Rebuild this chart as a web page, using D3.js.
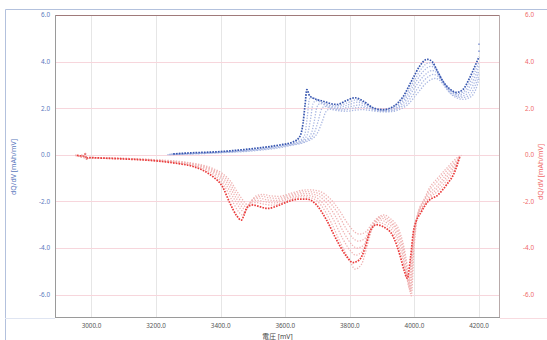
<!DOCTYPE html>
<html>
<head>
<meta charset="utf-8">
<script src="https://cdn.jsdelivr.net/npm/d3@7"></script>
<style>
  body { margin: 0; background: #fff; }
  svg { display: block; font-family: "Noto Sans", "Noto Sans CJK JP", sans-serif; }
</style>
</head>
<body>
<svg id="chart"></svg>
<script>
// axis ticks
const xTicks = [3000, 3200, 3400, 3600, 3800, 4000, 4200];
const yTicks = [6, 4, 2, 0, -2, -4, -6];

// charge dQ/dV (blue), darkest cycle first
const charge0 = [[3253,0.04],[3300,0.08],[3400,0.14],[3500,0.27],[3580,0.42],[3625,0.56],[3645,0.78],[3655,1.35],[3661,2.1],[3667,2.8],[3676,2.52],[3717,2.3],[3760,2.16],[3790,2.33],[3815,2.45],[3842,2.3],[3872,2.02],[3903,1.94],[3934,2.07],[3965,2.5],[3996,3.3],[4016,3.8],[4040,4.1],[4055,4.0],[4070,3.62],[4090,3.12],[4110,2.82],[4130,2.68],[4150,2.8],[4171,3.3],[4192,3.95],[4200,4.2]];
const charge1 = [[3245,0.03],[3300,0.07],[3400,0.13],[3500,0.25],[3580,0.4],[3640,0.58],[3660,0.85],[3668,1.6],[3675,2.4],[3682,2.45],[3720,2.22],[3760,2.1],[3795,2.25],[3820,2.36],[3846,2.22],[3876,1.98],[3906,1.92],[3936,2.04],[3968,2.45],[4000,3.2],[4022,3.7],[4045,3.95],[4060,3.85],[4075,3.5],[4095,3.02],[4115,2.74],[4134,2.63],[4155,2.74],[4175,3.2],[4196,3.85],[4200,4.0]];
const charge2 = [[3245,0.02],[3300,0.06],[3400,0.12],[3500,0.23],[3580,0.38],[3650,0.6],[3668,0.85],[3678,1.5],[3686,2.2],[3695,2.32],[3725,2.15],[3765,2.04],[3800,2.17],[3825,2.26],[3850,2.14],[3880,1.95],[3908,1.9],[3938,2.0],[3970,2.38],[4003,3.1],[4026,3.56],[4050,3.8],[4064,3.7],[4080,3.36],[4100,2.92],[4120,2.68],[4138,2.58],[4158,2.68],[4178,3.1],[4198,3.72],[4200,3.8]];
const charge3 = [[3240,0.02],[3300,0.05],[3400,0.11],[3500,0.21],[3590,0.38],[3660,0.62],[3680,0.9],[3690,1.45],[3698,2.05],[3708,2.2],[3735,2.06],[3770,1.98],[3805,2.08],[3830,2.14],[3855,2.05],[3884,1.91],[3910,1.88],[3940,1.97],[3972,2.3],[4006,2.98],[4030,3.4],[4055,3.62],[4068,3.54],[4084,3.22],[4104,2.82],[4124,2.6],[4142,2.52],[4162,2.6],[4182,3.0],[4200,3.62]];
const charge4 = [[3240,0.01],[3300,0.04],[3400,0.1],[3500,0.19],[3600,0.38],[3670,0.64],[3690,0.95],[3702,1.45],[3712,1.95],[3722,2.08],[3745,1.98],[3778,1.93],[3810,2.0],[3835,2.04],[3860,1.98],[3888,1.88],[3912,1.86],[3942,1.94],[3975,2.22],[4010,2.85],[4034,3.25],[4060,3.45],[4072,3.38],[4088,3.1],[4108,2.72],[4128,2.52],[4146,2.46],[4166,2.52],[4186,2.9],[4200,3.45]];
const charge5 = [[3235,0.01],[3300,0.03],[3400,0.09],[3500,0.17],[3610,0.38],[3680,0.66],[3702,1.0],[3715,1.45],[3726,1.85],[3738,1.96],[3760,1.9],[3790,1.87],[3818,1.92],[3840,1.94],[3865,1.9],[3892,1.85],[3915,1.84],[3945,1.9],[3978,2.14],[4014,2.72],[4038,3.1],[4065,3.28],[4076,3.22],[4092,2.96],[4112,2.62],[4132,2.44],[4150,2.38],[4170,2.45],[4190,2.8],[4200,3.28]];
const chargeExtra = [[4200,4.75],[4200,4.45]];

// discharge dQ/dV (red), darkest cycle first
const discharge0 = [[2955,-0.02],[2976,-0.05],[2980,0.03],[2984,-0.16],[2992,-0.12],[3050,-0.15],[3120,-0.19],[3200,-0.26],[3270,-0.38],[3315,-0.5],[3350,-0.7],[3380,-0.98],[3405,-1.35],[3428,-2.05],[3450,-2.62],[3464,-2.8],[3472,-2.6],[3482,-2.25],[3500,-2.15],[3520,-2.22],[3545,-2.3],[3583,-2.15],[3610,-2.0],[3640,-1.9],[3668,-1.9],[3697,-2.15],[3728,-2.8],[3759,-3.65],[3790,-4.36],[3810,-4.62],[3830,-4.5],[3847,-4.0],[3862,-3.3],[3882,-3.0],[3903,-3.08],[3934,-3.5],[3955,-4.3],[3968,-4.95],[3978,-5.3],[3988,-4.4],[3998,-3.2],[4022,-2.43],[4042,-2.0],[4073,-1.72],[4099,-1.29],[4125,-0.72],[4140,-0.1]];
const discharge1 = [[2950,-0.02],[2978,-0.06],[2984,-0.14],[3050,-0.15],[3120,-0.18],[3200,-0.25],[3275,-0.36],[3320,-0.48],[3355,-0.66],[3385,-0.92],[3410,-1.3],[3435,-1.95],[3456,-2.45],[3468,-2.58],[3478,-2.4],[3490,-2.1],[3510,-2.05],[3535,-2.12],[3560,-2.16],[3595,-2.02],[3625,-1.86],[3655,-1.8],[3683,-1.86],[3712,-2.18],[3742,-2.9],[3772,-3.8],[3800,-4.55],[3816,-4.9],[3836,-4.7],[3852,-4.0],[3870,-3.15],[3890,-2.9],[3910,-3.0],[3940,-3.45],[3960,-4.3],[3974,-5.1],[3982,-5.5],[3992,-4.2],[4002,-3.0],[4024,-2.3],[4044,-1.88],[4073,-1.55],[4100,-1.1],[4126,-0.55],[4142,-0.06]];
const discharge2 = [[2950,-0.02],[2984,-0.13],[3050,-0.14],[3120,-0.17],[3200,-0.24],[3280,-0.35],[3325,-0.46],[3360,-0.63],[3390,-0.88],[3415,-1.25],[3440,-1.85],[3460,-2.3],[3472,-2.45],[3482,-2.3],[3495,-2.0],[3515,-1.95],[3540,-2.02],[3565,-2.06],[3600,-1.92],[3630,-1.78],[3660,-1.74],[3690,-1.8],[3718,-2.1],[3748,-2.75],[3778,-3.6],[3804,-4.15],[3818,-4.3],[3838,-4.15],[3855,-3.6],[3874,-3.0],[3895,-2.8],[3915,-2.92],[3944,-3.4],[3964,-4.3],[3976,-5.2],[3984,-5.7],[3994,-4.1],[4004,-2.9],[4026,-2.2],[4046,-1.78],[4070,-1.45],[4100,-0.95],[4128,-0.42],[4143,-0.05]];
const discharge3 = [[2950,-0.02],[2984,-0.12],[3050,-0.14],[3120,-0.17],[3200,-0.23],[3285,-0.34],[3330,-0.45],[3365,-0.61],[3395,-0.85],[3420,-1.2],[3444,-1.76],[3464,-2.2],[3476,-2.35],[3486,-2.2],[3500,-1.92],[3520,-1.86],[3545,-1.93],[3570,-1.96],[3605,-1.83],[3635,-1.7],[3665,-1.66],[3695,-1.72],[3724,-2.0],[3754,-2.6],[3784,-3.4],[3808,-3.88],[3822,-4.0],[3842,-3.88],[3858,-3.4],[3878,-2.9],[3898,-2.72],[3918,-2.84],[3948,-3.35],[3967,-4.3],[3979,-5.25],[3986,-5.8],[3996,-4.0],[4006,-2.8],[4028,-2.05],[4048,-1.62],[4068,-1.36],[4100,-0.82],[4130,-0.32],[4144,-0.04]];
const discharge4 = [[2950,-0.02],[2984,-0.12],[3050,-0.13],[3120,-0.16],[3200,-0.22],[3290,-0.33],[3335,-0.44],[3370,-0.6],[3400,-0.83],[3425,-1.16],[3448,-1.68],[3468,-2.1],[3480,-2.25],[3490,-2.1],[3505,-1.84],[3525,-1.78],[3550,-1.84],[3575,-1.87],[3610,-1.74],[3640,-1.62],[3670,-1.58],[3700,-1.64],[3730,-1.92],[3760,-2.45],[3790,-3.2],[3812,-3.6],[3826,-3.7],[3846,-3.6],[3862,-3.2],[3882,-2.8],[3900,-2.65],[3920,-2.78],[3950,-3.3],[3970,-4.3],[3981,-5.3],[3988,-5.9],[3998,-3.9],[4008,-2.7],[4030,-1.95],[4050,-1.45],[4064,-1.25],[4100,-0.68],[4132,-0.22],[4145,-0.03]];
const discharge5 = [[2950,-0.02],[2984,-0.11],[3050,-0.13],[3120,-0.16],[3200,-0.21],[3295,-0.32],[3340,-0.43],[3375,-0.58],[3405,-0.8],[3430,-1.12],[3452,-1.6],[3472,-2.0],[3484,-2.15],[3494,-2.0],[3510,-1.76],[3530,-1.7],[3555,-1.76],[3580,-1.78],[3615,-1.66],[3645,-1.54],[3675,-1.5],[3705,-1.56],[3736,-1.84],[3766,-2.35],[3796,-3.0],[3816,-3.32],[3830,-3.4],[3850,-3.3],[3866,-3.0],[3886,-2.7],[3905,-2.58],[3924,-2.72],[3953,-3.25],[3973,-4.35],[3984,-5.4],[3990,-6.05],[4000,-3.8],[4010,-2.6],[4032,-1.85],[4052,-1.3],[4060,-1.18],[4100,-0.57],[4135,-0.1],[4146,-0.02]];
const dischargeExtra = [[2981,0.05],[2983,-0.08],[2985,-0.18],[2970,-0.03]];

const chargeCycles = [charge0, charge1, charge2, charge3, charge4, charge5];
const dischargeCycles = [discharge0, discharge1, discharge2, discharge3, discharge4, discharge5];

const width = 547, height = 340;
const plot = {left: 55, right: 500, top: 15, bottom: 318};

const svg = d3.select("#chart").attr("width", width).attr("height", height);

const x = d3.scaleLinear().domain([2887, 4265]).range([plot.left, plot.right]);
const y = d3.scaleLinear().domain([-7, 6]).range([plot.bottom, plot.top]);

// outer frame
svg.append("path")
    .attr("d", `M5.5,${height} V9.5 H${width}`)
    .attr("fill", "none")
    .attr("stroke", "#b3c1dd");
svg.append("line")
    .attr("x1", 5).attr("x2", plot.left).attr("y1", plot.bottom + 0.5).attr("y2", plot.bottom + 0.5)
    .attr("stroke", "#dfe5f2");
svg.append("line")
    .attr("x1", plot.right).attr("x2", width).attr("y1", plot.bottom + 0.5).attr("y2", plot.bottom + 0.5)
    .attr("stroke", "#f8dbe0");

// grid
svg.append("g")
    .selectAll("line")
    .data(xTicks)
    .join("line")
    .attr("x1", d => Math.round(x(d)) + 0.5)
    .attr("x2", d => Math.round(x(d)) + 0.5)
    .attr("y1", plot.top)
    .attr("y2", plot.bottom)
    .attr("stroke", "#e6e6e6");

svg.append("g")
    .selectAll("line")
    .data(yTicks)
    .join("line")
    .attr("x1", plot.left)
    .attr("x2", plot.right)
    .attr("y1", d => Math.round(y(d)) + 0.5)
    .attr("y2", d => Math.round(y(d)) + 0.5)
    .attr("stroke", "#f7d6dc");

// plot border
svg.append("line").attr("x1", plot.left).attr("x2", plot.right)
    .attr("y1", plot.top + 0.5).attr("y2", plot.top + 0.5).attr("stroke", "#a07a7a");
svg.append("line").attr("x1", plot.right - 0.5).attr("x2", plot.right - 0.5)
    .attr("y1", plot.top).attr("y2", plot.bottom).attr("stroke", "#b8aaaa");
svg.append("line").attr("x1", plot.left + 0.5).attr("x2", plot.left + 0.5)
    .attr("y1", plot.top).attr("y2", plot.bottom).attr("stroke", "#9a9a9a");
svg.append("line").attr("x1", plot.left).attr("x2", plot.right)
    .attr("y1", plot.bottom - 0.5).attr("y2", plot.bottom - 0.5).attr("stroke", "#9a9a9a");

// tick labels
svg.append("g")
    .selectAll("text")
    .data(xTicks)
    .join("text")
    .attr("x", d => x(d))
    .attr("y", plot.bottom + 10)
    .attr("text-anchor", "middle")
    .attr("font-size", 6.3)
    .attr("fill", "#555")
    .text(d => d.toFixed(1));

svg.append("g")
    .selectAll("text")
    .data(yTicks)
    .join("text")
    .attr("x", 50)
    .attr("y", d => y(d) + 2.3)
    .attr("text-anchor", "end")
    .attr("font-size", 6.3)
    .attr("fill", "#5a78bd")
    .text(d => d.toFixed(1));

svg.append("g")
    .selectAll("text")
    .data(yTicks)
    .join("text")
    .attr("x", 534)
    .attr("y", d => y(d) + 2.3)
    .attr("text-anchor", "end")
    .attr("font-size", 6.3)
    .attr("fill", "#f06a6a")
    .text(d => d.toFixed(1));

// axis titles
svg.append("text")
    .attr("x", (plot.left + plot.right) / 2)
    .attr("y", 338.5)
    .attr("text-anchor", "middle")
    .attr("font-size", 6.8)
    .attr("fill", "#444")
    .text("電圧 [mV]");

svg.append("text")
    .attr("transform", "translate(16,167) rotate(-90)")
    .attr("text-anchor", "middle")
    .attr("font-size", 7)
    .attr("fill", "#5a78bd")
    .text("dQ/dV [mAh/mV]");

svg.append("text")
    .attr("transform", "translate(543,172) rotate(-90)")
    .attr("text-anchor", "middle")
    .attr("font-size", 7)
    .attr("fill", "#f06a6a")
    .text("dQ/dV [mAh/mV]");

// curves
const line = d3.line()
    .x(d => x(d[0]))
    .y(d => y(d[1]))
    .curve(d3.curveMonotoneX);

const curves = svg.append("g");

function drawSeries(cycles, dark, light) {
    cycles.slice(1).reverse().forEach(c => {
        curves.append("path")
            .datum(c)
            .attr("d", line)
            .attr("fill", "none")
            .attr("stroke", light)
            .attr("stroke-width", 1.3)
            .attr("stroke-dasharray", "1.3 1.5");
    });
    curves.append("path")
        .datum(cycles[0])
        .attr("d", line)
        .attr("fill", "none")
        .attr("stroke", dark)
        .attr("stroke-width", 1.7)
        .attr("stroke-dasharray", "1.6 1.2");
}

drawSeries(chargeCycles, "#3857b0", "#a9b7e2");
drawSeries(dischargeCycles, "#ea3b3b", "#efb3b3");

curves.append("g")
    .selectAll("circle")
    .data(chargeExtra)
    .join("circle")
    .attr("cx", d => x(d[0]))
    .attr("cy", d => y(d[1]))
    .attr("r", 0.9)
    .attr("fill", "#8fa0d8");

curves.append("g")
    .selectAll("circle")
    .data(dischargeExtra)
    .join("circle")
    .attr("cx", d => x(d[0]))
    .attr("cy", d => y(d[1]))
    .attr("r", 1)
    .attr("fill", "#e88a8a");
</script>
</body>
</html>
